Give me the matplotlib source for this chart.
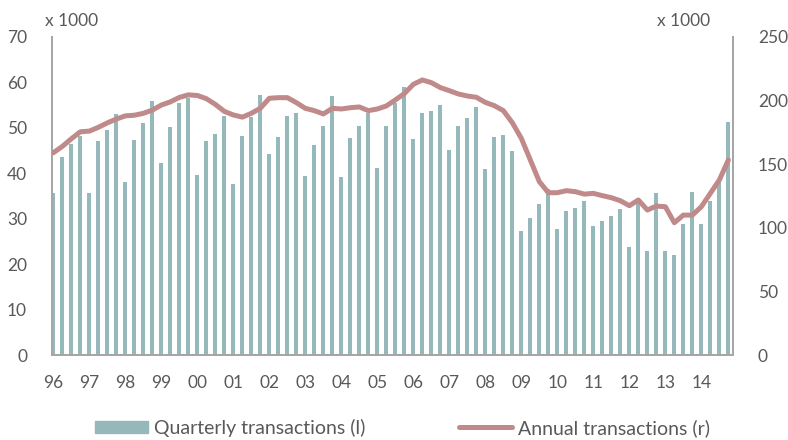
import matplotlib
matplotlib.use("Agg")
import matplotlib.pyplot as plt
import numpy as np
from matplotlib.lines import Line2D
from matplotlib.patches import Patch

plt.rcParams['font.family'] = ['Lato', 'DejaVu Sans']

years = ['96', '97', '98', '99', '00', '01', '02', '03', '04', '05', '06',
         '07', '08', '09', '10', '11', '12', '13', '14']

quarterly = [35.6, 43.6, 46.4, 48.2, 35.6, 47.1, 49.5, 53.0, 38.0, 47.3,
             51.0, 55.8, 42.2, 50.1, 55.5, 56.5, 39.6, 47.0, 48.6, 52.5,
             37.6, 48.1, 52.4, 57.2, 44.2, 48.0, 52.5, 53.2, 39.5, 46.2,
             50.3, 57.1, 39.2, 47.8, 50.3, 53.2, 41.1, 50.5, 55.5, 58.9,
             47.5, 53.2, 53.8, 55.0, 45.2, 50.3, 52.1, 54.5, 40.9, 48.0,
             48.4, 44.9, 27.2, 30.2, 33.2, 36.6, 27.7, 31.8, 32.3, 34.0,
             28.3, 29.4, 30.7, 32.1, 23.8, 33.4, 22.9, 35.6, 23.0, 22.0,
             28.8, 35.9, 28.8, 34.0, 38.1, 51.3]

annual = [159, 164, 170, 175.5, 176, 179, 182.5, 185.5, 188, 188.5,
          190, 192.5, 196.5, 199, 202.5, 204.5, 204, 201.5, 197, 191.5,
          188.7, 187, 190, 194, 201.8, 202.3, 202.3, 198.4, 193.9, 192.1,
          189.5, 193.9, 193.4, 194.4, 195, 192.1, 193.4, 195.8, 200.5, 205.5,
          212.8, 216.2, 214.1, 210.2, 207.8, 205.2, 203.6, 202.6, 198.6, 196,
          192.1, 182.6, 170.3, 153.3, 136.3, 127.6, 127.6, 129.2, 128.4, 126.5,
          127.1, 125.3, 123.7, 121.3, 117.4, 121.9, 114, 117.1, 116.6, 104,
          110, 110, 116.6, 127.1, 137.6, 153.3]

bar_color = '#95b8bb'
line_color = '#c08a8a'
text_color = '#595959'
spine_color = '#a6a6a6'

fig = plt.figure(figsize=(7.88, 4.40), dpi=100)
ax = fig.add_axes([0.066, 0.193, 0.864, 0.723])
x = np.arange(len(quarterly))
ax.bar(x, quarterly, width=0.45, color=bar_color, zorder=2)
ax.set_ylim(0, 70)
ax.set_yticks(range(0, 71, 10))
ax.set_xlim(-0.15, 75.5)
ax.set_xticks(np.arange(0, len(quarterly), 4))
ax.set_xticklabels(years)

ax2 = ax.twinx()
ax2.plot(x, annual, color=line_color, lw=3.6, solid_capstyle='round',
         solid_joinstyle='round', zorder=3)
ax2.set_ylim(0, 250)
ax2.set_yticks(range(0, 251, 50))

for a in (ax, ax2):
    a.tick_params(length=0, labelsize=12.5, colors=text_color)
    a.spines['top'].set_visible(False)
    for s in ('left', 'right', 'bottom'):
        a.spines[s].set_color(spine_color)
        a.spines[s].set_linewidth(1.3)
ax.tick_params(axis='y', pad=18)
ax.tick_params(axis='x', pad=14)
ax2.tick_params(axis='y', pad=18)

fig.text(0.057, 0.952, 'x 1000', fontsize=12.5, color=text_color, va='center')
fig.text(0.834, 0.952, 'x 1000', fontsize=12.5, color=text_color, va='center')

handles = [Patch(color=bar_color, label='Quarterly transactions (l)'),
           Line2D([0], [0], color=line_color, lw=3.6, solid_capstyle='round',
                  label='Annual transactions (r)')]
leg = fig.legend(handles=handles, loc='center', bbox_to_anchor=(0.511, 0.028),
                 ncol=2, frameon=False, fontsize=14, handlelength=2.75,
                 handleheight=0.55, handletextpad=0.3, columnspacing=4.8,
                 borderpad=0)
for t in leg.get_texts():
    t.set_color(text_color)

fig.savefig('out.png', dpi=100)
